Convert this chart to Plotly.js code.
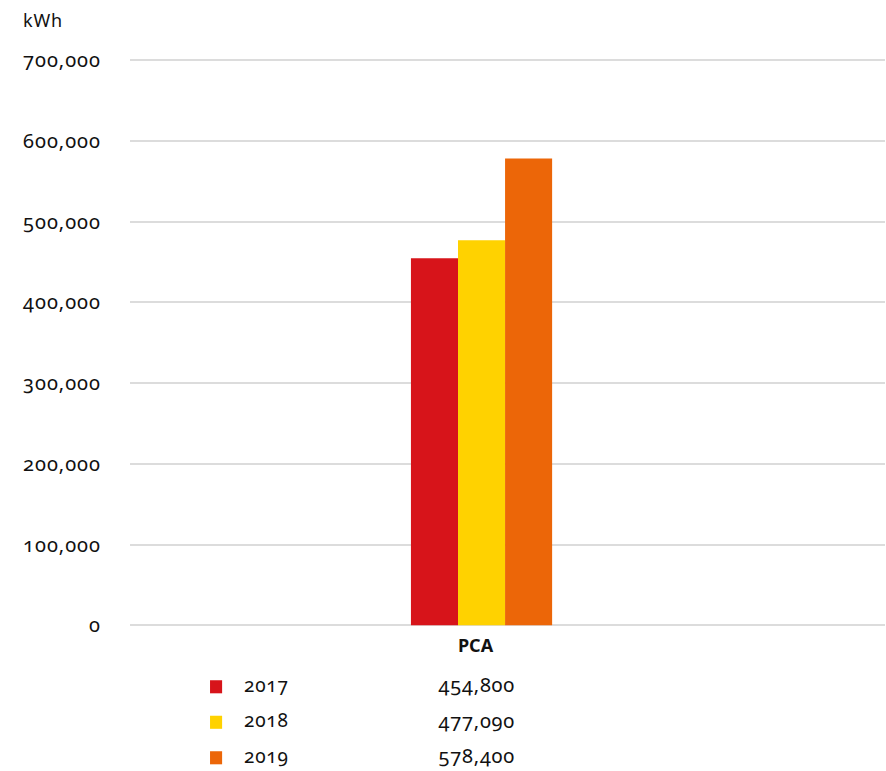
<!DOCTYPE html>
<html>
<head>
<meta charset="utf-8">
<script src="https://cdn.plot.ly/plotly-3.0.1.min.js"></script>
<style>
html,body{margin:0;padding:0;background:#fff;}
#chart{width:886px;height:771px;}
.main-svg text{font-variant-numeric:oldstyle-nums;font-feature-settings:"onum" 1;}
.ytick text{letter-spacing:1px;}
.annotation-text{letter-spacing:0.8px;}
</style>
</head>
<body>
<div id="chart"></div>
<script>
const categories = ["PCA"];
const years = ["2017", "2018", "2019"];
const values2017 = [454800];
const values2018 = [477090];
const values2019 = [578400];
const seriesValues = [values2017, values2018, values2019];
const colors = ["#D7141A", "#FFD200", "#EC6608"];
const yTickVals = [0, 100000, 200000, 300000, 400000, 500000, 600000, 700000];
const yUnit = "kWh";

const FONT = "'Noto Sans', 'Open Sans', sans-serif";

const traces = years.map((yr, i) => ({
  type: "bar",
  name: yr,
  x: categories,
  y: seriesValues[i],
  marker: {color: colors[i]},
  showlegend: false,
  hoverinfo: "skip"
}));

const annotations = [{
  xref: "paper", yref: "paper", x: -0.144, y: 1.067,
  xanchor: "left", yanchor: "middle", showarrow: false,
  text: yUnit, font: {family: FONT, size: 18, color: "#111"}
}];
const shapes = [];
const rowY0 = -0.107, rowStep = 0.0625;
years.forEach((yr, i) => {
  const yy = rowY0 - i * rowStep;
  annotations.push({
    xref: "paper", yref: "paper", x: 0.1475, y: yy, yshift: 2,
    xanchor: "left", yanchor: "middle", showarrow: false,
    text: yr, font: {family: FONT, size: 19, color: "#111"}
  });
  annotations.push({
    xref: "paper", yref: "paper", x: 0.460, y: yy, yshift: 2,
    xanchor: "center", yanchor: "middle", showarrow: false,
    text: seriesValues[i][0].toLocaleString("en-US"),
    font: {family: FONT, size: 20, color: "#111"}
  });
  shapes.push({
    type: "rect", xref: "paper", yref: "paper",
    x0: 0.106, x1: 0.122, y0: yy - 0.0115, y1: yy + 0.0115,
    fillcolor: colors[i], line: {width: 0}
  });
});

const layout = {
  width: 886, height: 771,
  paper_bgcolor: "#fff", plot_bgcolor: "#fff",
  margin: {l: 130, r: 1, t: 57.6, b: 145},
  barmode: "group",
  bargap: 0.813,
  bargroupgap: 0,
  font: {family: FONT, size: 17, color: "#111"},
  xaxis: {
    type: "category",
    range: [-0.4656, 0.5344],
    showgrid: false, zeroline: false, showline: false,
    ticks: "",
    tickfont: {family: FONT, size: 18, color: "#111", weight: "bold"},
    ticklabelstandoff: 7,
    ticklabelshift: -6
  },
  yaxis: {
    range: [-1000, 703000],
    tickvals: yTickVals,
    tickformat: ",",
    showgrid: true, gridcolor: "#dcdcdc", gridwidth: 2,
    zeroline: true, zerolinecolor: "#dcdcdc", zerolinewidth: 2,
    showline: false, ticks: "",
    ticklabelstandoff: 28,
    tickfont: {family: FONT, size: 20, color: "#111"}
  },
  annotations: annotations,
  shapes: shapes
};

Plotly.newPlot("chart", traces, layout, {displayModeBar: false, staticPlot: true});
</script>
</body>
</html>
